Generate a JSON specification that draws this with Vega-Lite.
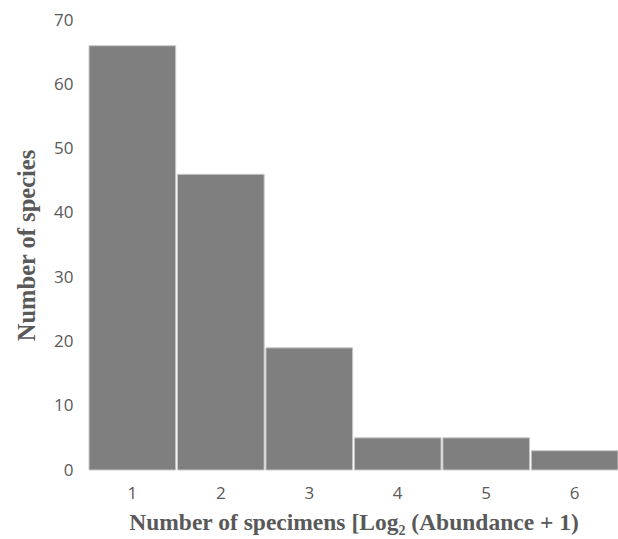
{
  "$schema": "https://vega.github.io/schema/vega-lite/v6.json",
  "width": 529,
  "height": 450,
  "autosize": {"type": "none"},
  "padding": {"left": 89, "top": 20, "right": 0, "bottom": 69},
  "background": "white",
  "config": {"view": {"stroke": null}},
  "data": {
    "values": [
      {"bin": "1", "species": 66},
      {"bin": "2", "species": 46},
      {"bin": "3", "species": 19},
      {"bin": "4", "species": 5},
      {"bin": "5", "species": 5},
      {"bin": "6", "species": 3}
    ]
  },
  "mark": {"type": "bar", "fill": "#7f7f7f", "stroke": "#c8c8c8", "strokeWidth": 1},
  "encoding": {
    "x": {
      "field": "bin",
      "type": "ordinal",
      "scale": {"paddingInner": 0.02, "paddingOuter": 0},
      "axis": {
        "title": "Number of specimens [Log₂ (Abundance + 1)",
        "titleFont": "Liberation Serif",
        "titleFontSize": 23.5,
        "titleFontWeight": "bold",
        "titleColor": "#595959",
        "titlePadding": 9,
        "labelAngle": 0,
        "labelFont": "Open Sans",
        "labelFontSize": 17,
        "labelColor": "#595959",
        "labelPadding": 15,
        "ticks": false,
        "domain": false
      }
    },
    "y": {
      "field": "species",
      "type": "quantitative",
      "scale": {"domain": [0, 70], "nice": false},
      "axis": {
        "title": "Number of species",
        "titleFont": "Liberation Serif",
        "titleFontSize": 24.5,
        "titleFontWeight": "bold",
        "titleColor": "#595959",
        "titlePadding": 14,
        "values": [0, 10, 20, 30, 40, 50, 60, 70],
        "labelFont": "Open Sans",
        "labelFontSize": 17,
        "labelColor": "#595959",
        "labelPadding": 16,
        "ticks": false,
        "domain": false,
        "grid": false
      }
    }
  }
}
